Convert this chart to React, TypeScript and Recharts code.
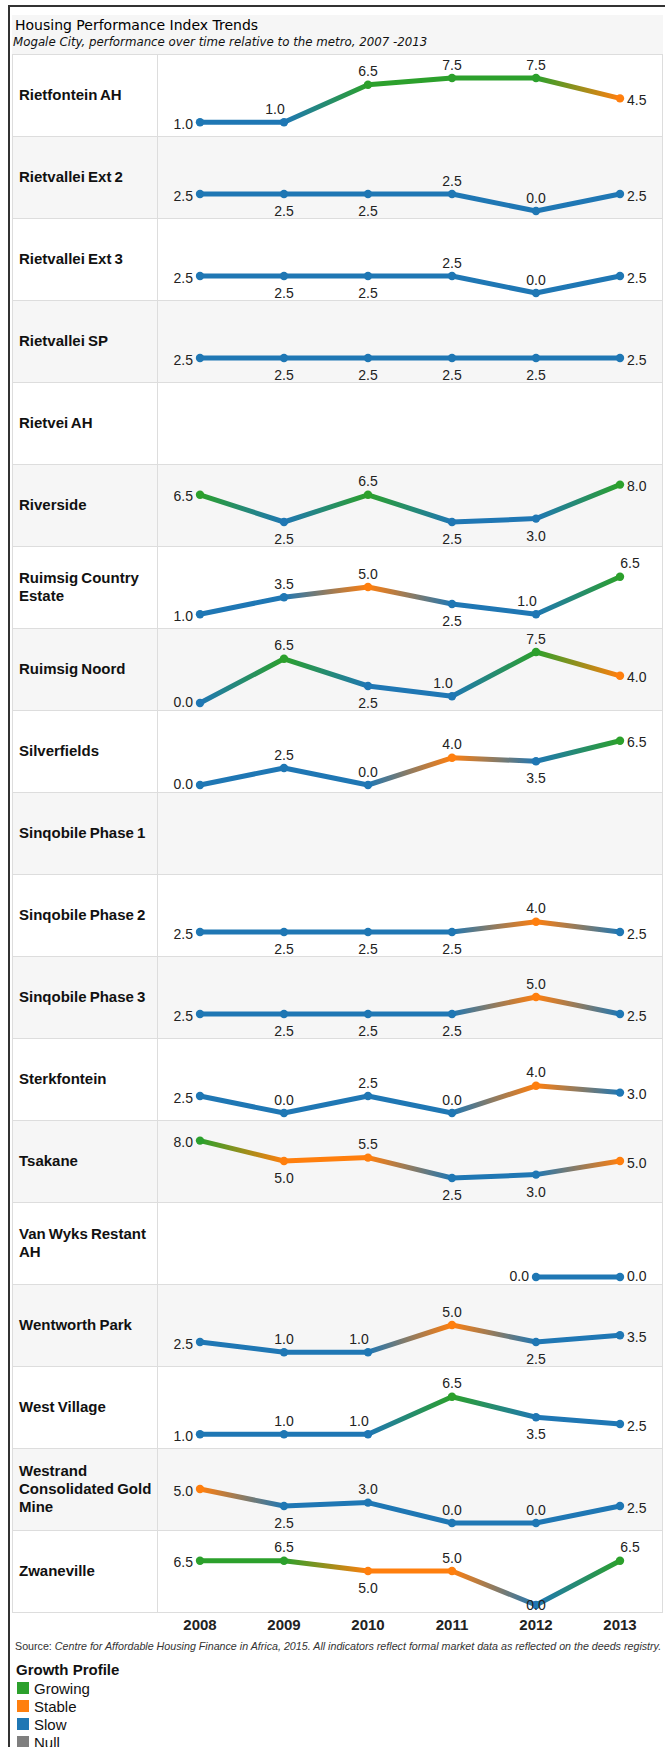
import { LineChart, Line, XAxis, YAxis, LabelList } from "recharts";

type Value = number | null;

const years = ["2008", "2009", "2010", "2011", "2012", "2013"];

const areaNames = [
  "Rietfontein AH",
  "Rietvallei Ext 2",
  "Rietvallei Ext 3",
  "Rietvallei SP",
  "Rietvei AH",
  "Riverside",
  "Ruimsig Country Estate",
  "Ruimsig Noord",
  "Silverfields",
  "Sinqobile Phase 1",
  "Sinqobile Phase 2",
  "Sinqobile Phase 3",
  "Sterkfontein",
  "Tsakane",
  "Van Wyks Restant AH",
  "Wentworth Park",
  "West Village",
  "Westrand Consolidated Gold Mine",
  "Zwaneville",
];

// performance index per year, 2008..2013
const rietfonteinAH: Value[] = [1.0, 1.0, 6.5, 7.5, 7.5, 4.5];
const rietvalleiExt2: Value[] = [2.5, 2.5, 2.5, 2.5, 0.0, 2.5];
const rietvalleiExt3: Value[] = [2.5, 2.5, 2.5, 2.5, 0.0, 2.5];
const rietvalleiSP: Value[] = [2.5, 2.5, 2.5, 2.5, 2.5, 2.5];
const rietveiAH: Value[] = [null, null, null, null, null, null];
const riverside: Value[] = [6.5, 2.5, 6.5, 2.5, 3.0, 8.0];
const ruimsigCountryEstate: Value[] = [1.0, 3.5, 5.0, 2.5, 1.0, 6.5];
const ruimsigNoord: Value[] = [0.0, 6.5, 2.5, 1.0, 7.5, 4.0];
const silverfields: Value[] = [0.0, 2.5, 0.0, 4.0, 3.5, 6.5];
const sinqobilePhase1: Value[] = [null, null, null, null, null, null];
const sinqobilePhase2: Value[] = [2.5, 2.5, 2.5, 2.5, 4.0, 2.5];
const sinqobilePhase3: Value[] = [2.5, 2.5, 2.5, 2.5, 5.0, 2.5];
const sterkfontein: Value[] = [2.5, 0.0, 2.5, 0.0, 4.0, 3.0];
const tsakane: Value[] = [8.0, 5.0, 5.5, 2.5, 3.0, 5.0];
const vanWyksRestantAH: Value[] = [null, null, null, null, 0.0, 0.0];
const wentworthPark: Value[] = [2.5, 1.0, 1.0, 5.0, 2.5, 3.5];
const westVillage: Value[] = [1.0, 1.0, 1.0, 6.5, 3.5, 2.5];
const westrandConsolidated: Value[] = [5.0, 2.5, 3.0, 0.0, 0.0, 2.5];
const zwaneville: Value[] = [6.5, 6.5, 5.0, 5.0, 0.0, 6.5];

const areaValues = [
  rietfonteinAH,
  rietvalleiExt2,
  rietvalleiExt3,
  rietvalleiSP,
  rietveiAH,
  riverside,
  ruimsigCountryEstate,
  ruimsigNoord,
  silverfields,
  sinqobilePhase1,
  sinqobilePhase2,
  sinqobilePhase3,
  sterkfontein,
  tsakane,
  vanWyksRestantAH,
  wentworthPark,
  westVillage,
  westrandConsolidated,
  zwaneville,
];

const profileNames = ["Growing", "Stable", "Slow", "Null"];

const PROFILE_COLORS: Record<string, string> = {
  Growing: "#2ca02c",
  Stable: "#ff7f0e",
  Slow: "#1f77b4",
  Null: "#7f7f7f",
};

const SANS = '"Liberation Sans", Arial, sans-serif';
const ROW_H = 82;
const CHART_W = 504;
const BAND_PAD = 42;

function profileOf(v: Value) {
  if (v == null) return "Null";
  if (v >= 6) return "Growing";
  if (v >= 4) return "Stable";
  return "Slow";
}

// where the value label sits relative to its point
function labelPlacement(values: Value[], i: number) {
  const present = values.map((v, k) => (v == null ? -1 : k)).filter((k) => k >= 0);
  const first = present[0];
  const last = present[present.length - 1];
  const v = values[i] as number;
  const above = { dx: 0, dy: -13.5, anchor: "middle" };
  const below = { dx: 0, dy: 17, anchor: "middle" };
  const sideDy = v === 0 ? -1.5 : 1.5;

  if (i === first) return { dx: -7, dy: sideDy, anchor: "end" };
  const prev = values[i - 1] as number;
  if (i === last) {
    if (v - prev > 5) return { dx: 10, dy: -14, anchor: "middle" };
    return { dx: 7, dy: sideDy, anchor: "start" };
  }
  const next = values[i + 1] as number;
  if (v <= 1) {
    // no room underneath: go above unless wedged in a deep dip
    if (Math.min(prev, next) - v >= 5) return { dx: 0, dy: 0, anchor: "middle" };
    return { ...above, dx: v > 0 && next - v >= 4 ? -9 : 0 };
  }
  const bend = next - 2 * v + prev;
  return bend < 0 ? above : below;
}

function TrendRow({ name, values, index }: { name: string; values: Value[]; index: number }) {
  const data = years.map((year, i) => ({ year, value: values[i] }));
  const present = values.map((v, k) => (v == null ? -1 : k)).filter((k) => k >= 0);
  const colors = values.map((v) => PROFILE_COLORS[profileOf(v)]);
  const presentColors = present.map((k) => colors[k]);
  const mixed = new Set(presentColors).size > 1;
  const gradId = `trend-grad-${index}`;
  const first = present[0];
  const span = present[present.length - 1] - first;

  const renderDot = (props: any) => {
    const { cx, cy, index: k } = props;
    if (values[k] == null || cy == null) return <g key={`d${k}`} />;
    return <circle key={`d${k}`} cx={cx} cy={cy} r={4.2} fill={colors[k]} />;
  };

  const renderLabel = (props: any) => {
    const k = props.index;
    if (k == null || values[k] == null) return null;
    const x = props.x ?? props.viewBox?.x;
    const y = props.y ?? props.viewBox?.y;
    const p = labelPlacement(values, k);
    return (
      <text
        key={`l${k}`}
        x={x + p.dx}
        y={y + p.dy}
        textAnchor={p.anchor}
        dominantBaseline="central"
        fontFamily={SANS}
        fontSize={14}
        fill="#222"
      >
        {(values[k] as number).toFixed(1)}
      </text>
    );
  };

  return (
    <div
      style={{
        display: "flex",
        height: ROW_H,
        boxSizing: "border-box",
        borderTop: "1px solid #dddddd",
        background: index % 2 ? "#f6f6f6" : "#ffffff",
        position: "relative",
        zIndex: ROW_H - index,
      }}
    >
      <div
        style={{
          width: 145,
          boxSizing: "border-box",
          borderRight: "1px solid #dddddd",
          paddingLeft: 6,
          paddingBottom: 1,
          display: "flex",
          alignItems: "center",
        }}
      >
        <div
          style={{
            width: 146,
            fontFamily: SANS,
            fontWeight: "bold",
            fontSize: 15,
            lineHeight: "18px",
            wordSpacing: -1,
            color: "#111",
          }}
        >
          {name}
        </div>
      </div>
      {present.length > 0 && (
        <LineChart
          width={CHART_W}
          height={ROW_H - 1}
          data={data}
          margin={{ top: 6, right: 0, bottom: 7, left: 0 }}
        >
          <defs>
            <linearGradient id={gradId} x1="0" y1="0" x2="1" y2="0">
              {present.map((k) => (
                <stop
                  key={k}
                  offset={`${span > 0 ? ((k - first) / span) * 100 : 0}%`}
                  stopColor={colors[k]}
                />
              ))}
            </linearGradient>
          </defs>
          <XAxis dataKey="year" hide padding={{ left: BAND_PAD, right: BAND_PAD }} />
          <YAxis hide domain={[0, 10]} />
          <Line
            type="linear"
            dataKey="value"
            stroke={mixed ? `url(#${gradId})` : presentColors[0]}
            strokeWidth={5}
            strokeLinejoin="round"
            strokeLinecap="round"
            dot={renderDot}
            activeDot={false}
            isAnimationActive={false}
          >
            <LabelList dataKey="value" content={renderLabel} />
          </Line>
        </LineChart>
      )}
    </div>
  );
}

function YearAxis() {
  const data = years.map((year) => ({ year, value: null }));
  return (
    <LineChart width={CHART_W} height={31} data={data} margin={{ top: 0, right: 0, bottom: 0, left: 0 }}>
      <XAxis
        xAxisId="edges"
        type="number"
        domain={[0, 6]}
        ticks={[0, 1, 2, 3, 4, 5, 6]}
        allowDataOverflow
        tick={false}
        axisLine={false}
        tickLine={{ stroke: "#cccccc" }}
        tickSize={5}
        height={1}
      />
      <XAxis
        xAxisId="years"
        dataKey="year"
        padding={{ left: BAND_PAD, right: BAND_PAD }}
        interval={0}
        axisLine={false}
        tickLine={false}
        tickSize={0}
        tickMargin={4}
        height={29}
        tick={{ fill: "#222", fontSize: 15, fontWeight: "bold", fontFamily: SANS }}
      />
      <YAxis hide domain={[0, 10]} />
      <Line xAxisId="years" dataKey="value" stroke="none" dot={false} isAnimationActive={false} />
    </LineChart>
  );
}

export default function App() {
  return (
    <div style={{ position: "relative", width: 665, height: 1747, overflow: "hidden", background: "#fff" }}>
      <style>{`body{margin:0} .recharts-surface{overflow:visible}`}</style>
      <div
        style={{
          position: "absolute",
          left: 8,
          top: 5,
          width: 700,
          height: 1800,
          borderTop: "2px solid #333",
          borderLeft: "2px solid #333",
        }}
      />
      <div style={{ position: "absolute", left: 12, top: 15, width: 651, height: 39, background: "#f6f6f6" }} />
      <div
        style={{
          position: "absolute",
          left: 15,
          top: 17,
          fontFamily: '"DejaVu Sans", Verdana, sans-serif',
          fontSize: 14,
          lineHeight: "17px",
          color: "#000",
          whiteSpace: "nowrap",
        }}
      >
        Housing Performance Index Trends
      </div>
      <div
        style={{
          position: "absolute",
          left: 13,
          top: 35,
          fontFamily: '"DejaVu Sans", Verdana, sans-serif',
          fontStyle: "italic",
          fontSize: 11.8,
          lineHeight: "14px",
          color: "#111",
          whiteSpace: "nowrap",
        }}
      >
        Mogale City, performance over time relative to the metro, 2007 -2013
      </div>

      <div
        style={{
          position: "absolute",
          left: 12,
          top: 54,
          width: 651,
          boxSizing: "border-box",
          borderLeft: "1px solid #dddddd",
          borderRight: "1px solid #dddddd",
          borderBottom: "1px solid #dddddd",
        }}
      >
        {areaNames.map((name, i) => (
          <TrendRow key={name} name={name} values={areaValues[i]} index={i} />
        ))}
      </div>

      <div style={{ position: "absolute", left: 158, top: 1613 }}>
        <YearAxis />
      </div>

      <div
        style={{
          position: "absolute",
          left: 15,
          top: 1640,
          fontFamily: SANS,
          fontSize: 10.7,
          lineHeight: "12px",
          color: "#333",
          whiteSpace: "nowrap",
        }}
      >
        Source:{" "}
        <i>
          Centre for Affordable Housing Finance in Africa, 2015. All indicators reflect formal market data as
          reflected on the deeds registry.
        </i>
      </div>

      <div
        style={{
          position: "absolute",
          left: 16,
          top: 1661,
          fontFamily: SANS,
          fontWeight: "bold",
          fontSize: 15,
          lineHeight: "18px",
          color: "#111",
        }}
      >
        Growth Profile
      </div>
      {profileNames.map((p, i) => (
        <div
          key={p}
          style={{
            position: "absolute",
            left: 17,
            top: 1679 + i * 18,
            height: 18,
            display: "flex",
            alignItems: "center",
            fontFamily: SANS,
            fontSize: 15,
            color: "#111",
          }}
        >
          <span style={{ width: 12, height: 12, background: PROFILE_COLORS[p], marginRight: 5 }} />
          {p}
        </div>
      ))}
    </div>
  );
}
